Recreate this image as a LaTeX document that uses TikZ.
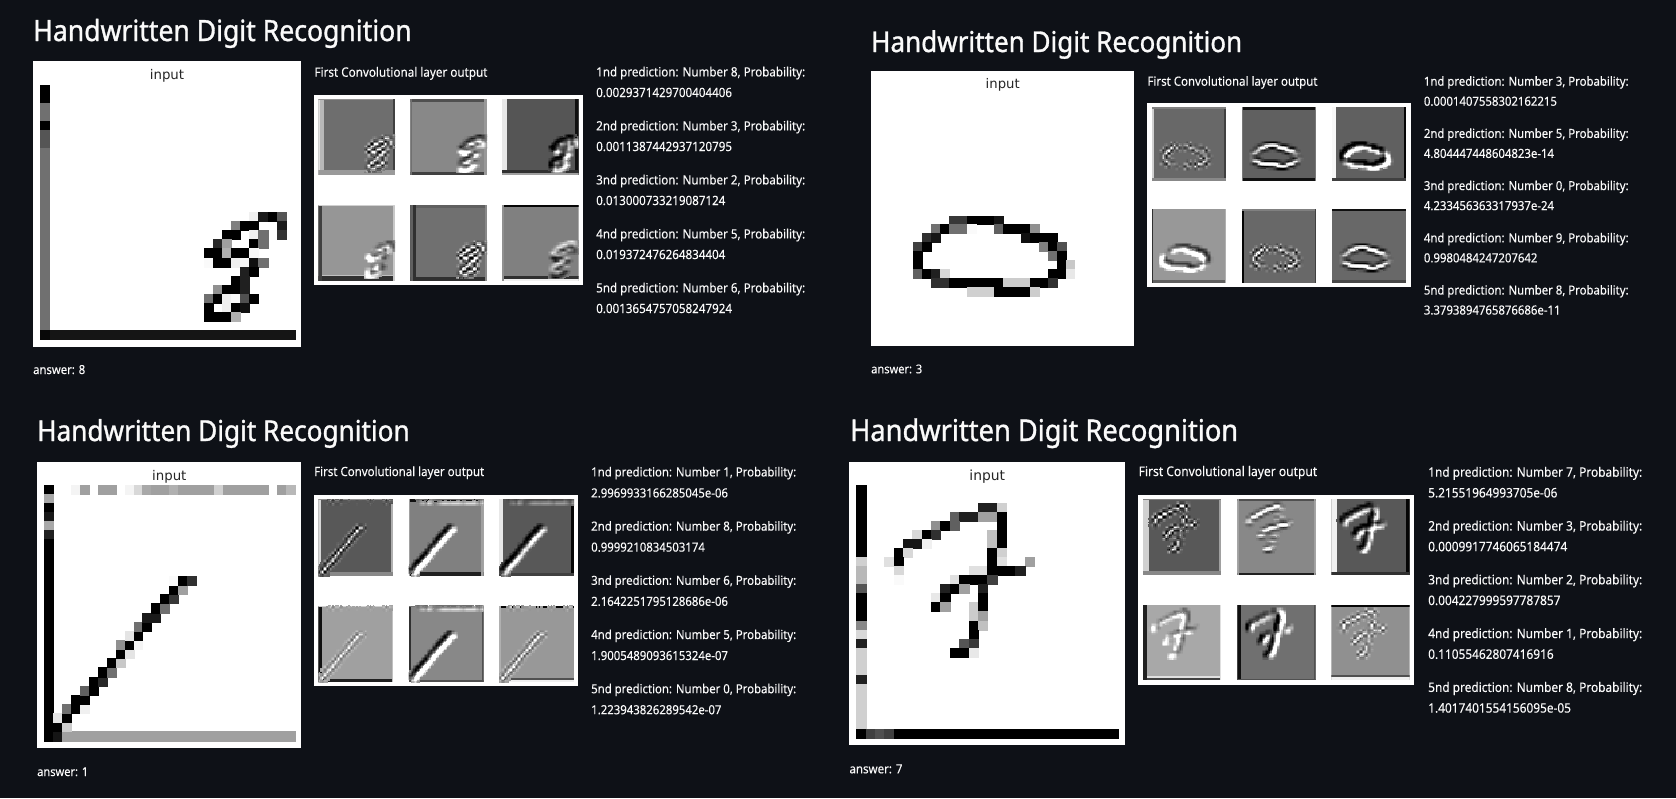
\documentclass[tikz,border=0pt]{standalone}
\usepackage{fontspec}
\setmainfont{Noto Sans}[FakeStretch=0.91,FakeBold=0.15]
\newfontfamily\titlefont{Noto Sans}[FakeStretch=0.91,FakeBold=1.1]
\newfontfamily\mplfont{DejaVu Sans}
\definecolor{pagebg}{HTML}{0E1117}
\definecolor{inktext}{HTML}{FAFAFA}
\foreach \a in {0,1,2,3,4,5,6,7,8,9,A,B,C,D,E,F}{\foreach \b in {0,1,2,3,4,5,6,7,8,9,A,B,C,D,E,F}{\xglobal\definecolor{g\a\b}{HTML}{\a\b\a\b\a\b}}}
\newlength\fitw
\newcount\tidc
\newcount\curn
% text fitted to a measured width: options, x, y, width, font, text
\newcommand\fit[6]{%
  \node[inner sep=0,#1] at (#2,#3) {\settowidth\fitw{#5\fontsize{10}{12}\selectfont #6}%
  \pgfmathsetmacro\fitfs{10*#4/\fitw}%
  #5\fontsize{\fitfs}{\fitfs}\selectfont #6};}
% digit picture: x0,y0,cell w,cell h,list c1/c2/r1/r2/grey
\newcommand\pixels[5]{%
  \begin{scope}[shift={(#1,#2)},x=#3pt,y=-#4pt]
  \foreach \ca/\cb/\ra/\rb/\pg in #5{%
    \path[fill=g\pg,draw=g\pg,line width=.2pt] (\ca,\ra) rectangle ({\cb+1},{\rb+1});}
  \end{scope}}
% expand a picture list into single cells (the axis bars are left to the strips)
\newcommand\buildcells[2]{%
  \gdef\tmpcells{}%
  \foreach \ca/\cb/\ra/\rb/\pg in #2{%
    \foreach \qi in {\ca,...,\cb}{\foreach \qj in {\ra,...,\rb}{%
      \edef\qv{\the\numexpr255-"\pg\relax}%
      \ifnum\qi>0 \ifnum\qj<27 \ifnum\qv>8
        \xdef\tmpcells{\unexpanded\expandafter{\tmpcells}\noexpand\docell{\qi}{\qj}{\qv}}%
      \fi\fi\fi}}}%
  \global\let#1\tmpcells}
% convolution of a picture with a small kernel, bilinear enlargement, drawing
\def\docell#1#2#3{\edef\qc{#1}\edef\qr{#2}\edef\qv{#3}\currentkernel}
\def\dok#1#2#3{\acc{\the\numexpr\qc+#1\relax}{\the\numexpr\qr+#2\relax}{\numexpr\qv*#3\relax}}
\def\acc#1#2#3{%
  \ifcsname a\tid @#1@#2\endcsname
    \expandafter\xdef\csname a\tid @#1@#2\endcsname{\the\numexpr\csname a\tid @#1@#2\endcsname+#3\relax}%
  \else
    \expandafter\xdef\csname a\tid @#1@#2\endcsname{\the\numexpr#3\relax}%
    \xdef\touched{\unexpanded\expandafter{\touched}\noexpand\dopa{#1}{#2}}%
  \fi}
\def\dopa#1#2{%
  \edef\qv{\csname a\tid @#1@#2\endcsname}%
  \edef\qc{\the\numexpr2*#1\relax}\edef\qr{\the\numexpr2*#2\relax}%
  \acb{-1}{-1}{1}\acb{0}{-1}{2}\acb{1}{-1}{1}\acb{-1}{0}{2}\acb{0}{0}{4}\acb{1}{0}{2}\acb{-1}{1}{1}\acb{0}{1}{2}\acb{1}{1}{1}}
\def\acb#1#2#3{%
  \edef\qx{\the\numexpr\qc+#1\relax}\edef\qy{\the\numexpr\qr+#2\relax}%
  \ifcsname b\tid @\qx @\qy\endcsname
    \expandafter\xdef\csname b\tid @\qx @\qy\endcsname{\the\numexpr\csname b\tid @\qx @\qy\endcsname+\qv*#3\relax}%
  \else
    \expandafter\xdef\csname b\tid @\qx @\qy\endcsname{\the\numexpr\qv*#3\relax}%
    \xdef\touchedB{\unexpanded\expandafter{\touchedB}\noexpand\dodraw{\qx}{\qy}}%
  \fi}
\def\gobbleone#1{}
\def\dodraw#1#2{%
  \edef\qs{\csname b\tid @#1@#2\endcsname}%
  \ifnum\qs<0 \edef\qs{\the\numexpr\qs*50/100\relax}\fi
  \edef\qg{\the\numexpr\tbg+\qs/(4*\tdiv)\relax}%
  \ifnum\tdiv<0 \edef\qg{\the\numexpr\tbg+\csname b\tid @#1@#2\endcsname/(8*\tdiv)\relax}\fi
  \ifnum\qg<0 \def\qg{0}\fi \ifnum\qg>255 \def\qg{255}\fi
  \edef\qd{\the\numexpr\qg-\tbg\relax}%
  \edef\qa{\the\numexpr2*#1+1\relax}\edef\qb{\the\numexpr2*#2+1\relax}%
  \ifnum\qd<-2 \drawcell\else\ifnum\qd>2 \drawcell\fi\fi}
% the thousands of small squares go out as compact page-content literals
\makeatletter
\def\drawcell{%
  \edef\qgv{\expandafter\gobbleone\the\numexpr1000+\qg*999/255\relax}%
  \xdef\curlit{\curlit .\qgv\space g \qa\space\qb\space 2.2 2.2 re f }%
  \global\advance\curn1
  \ifnum\curn>39 \flushlit\fi}
\def\flushlit{%
  \ifnum\curn>0 \pgfsysprotocol@literal{q \tctm\space cm \curlit Q}\fi
  \gdef\curlit{}\global\curn0 }
\makeatother
\newcommand\conv[3]{%
  \global\advance\tidc 1 \edef\tid{\the\tidc}%
  \gdef\touched{}\gdef\touchedB{}\gdef\curlit{}\global\curn0
  \let\currentkernel#2%
  #1\touched
  \edef\tdiv{#3}%
  \pgfmathsetmacro\cta{\tileW/112*0.996264}%
  \pgfmathsetmacro\ctd{-\tileH/112*0.996264}%
  \pgfmathsetmacro\cte{\tileX*0.996264}%
  \pgfmathsetmacro\ctf{-\tileY*0.996264}%
  \edef\tctm{\cta\space 0 0 \ctd\space \cte\space \ctf}%
  \touchedB
  \flushlit}
\def\kH{\dok{-1}{-1}{-1}\dok{0}{-1}{-2}\dok{1}{-1}{-1}\dok{-1}{1}{1}\dok{0}{1}{2}\dok{1}{1}{1}}
\def\kV{\dok{-1}{-1}{-1}\dok{-1}{0}{-2}\dok{-1}{1}{-1}\dok{1}{-1}{1}\dok{1}{0}{2}\dok{1}{1}{1}}
\def\kD{\dok{-1}{0}{-1}\dok{-1}{-1}{-2}\dok{0}{-1}{-1}\dok{1}{0}{1}\dok{1}{1}{2}\dok{0}{1}{1}}
\def\kA{\dok{1}{0}{-1}\dok{1}{-1}{-2}\dok{0}{-1}{-1}\dok{-1}{0}{1}\dok{-1}{1}{2}\dok{0}{1}{1}}
\def\kRidge{\dok{-1}{-1}{-1}\dok{0}{-1}{-2}\dok{1}{-1}{-1}\dok{-1}{0}{2}\dok{0}{0}{4}\dok{1}{0}{2}\dok{-1}{1}{-1}\dok{0}{1}{-2}\dok{1}{1}{-1}}
\def\kLap{\dok{-1}{-1}{1}\dok{0}{-1}{-2}\dok{1}{-1}{1}\dok{-1}{0}{-2}\dok{0}{0}{4}\dok{1}{0}{-2}\dok{-1}{1}{1}\dok{0}{1}{-2}\dok{1}{1}{1}}
% feature tile: x0,y0,w,h,bg,strips+convolution
\newcommand\tile[6]{%
  \begin{scope}[shift={(#1,#2)},x={#3pt/28},y={-#4pt/28}]
  \edef\tbg{\number"#5}\def\tileW{#3}\def\tileH{#4}\def\tileX{#1}\def\tileY{#2}%
  \clip (0,0) rectangle (28,28);
  \fill[fill=g#5] (0,0) rectangle (28,28);
  #6
  \end{scope}}
\newcommand\sL[2]{\fill[fill=g#2] (0,0) rectangle (#1,28);}
\newcommand\sR[2]{\fill[fill=g#2] ({28-#1},0) rectangle (28,28);}
\newcommand\sT[2]{\fill[fill=g#2] (0,0) rectangle (28,#1);}
\newcommand\sB[2]{\fill[fill=g#2] (0,{28-#1}) rectangle (28,28);}
% prediction lines: list, panel, x, y1, y2, step, width
\newcommand\predfont[1]{%
  \settowidth\fitw{\fontsize{10}{12}\selectfont 1nd prediction: Number 8, Probability:}%
  \pgfmathsetmacro\predfs{10*#1/\fitw}%
  \fontsize{\predfs}{\predfs}\selectfont}
\newcommand\predlines[7]{%
  \foreach \pk/\pd/\pv in {#1}{%
    \pgfmathsetmacro\yA{#4+(\pk-1)*#6}%
    \pgfmathsetmacro\yB{#5+(\pk-1)*#6}%
    \node[txt,name=p#2a\pk] at (#3,\yA) {\predfont{#7}\pk nd prediction: Number \pd, Probability:};
    \node[txt,name=p#2b\pk] at (#3,\yB) {\predfont{#7}\pv};
  }}
\tikzset{
  txt/.style={anchor=base west,inner sep=0,text=inktext},
  ttl/.style={anchor=base west,text=inktext},
  inp/.style={anchor=base,text=g26},
}
\def\listA{
0/0/0/1/00,0/0/2/3/70,0/0/4/4/00,0/0/5/6/55,0/0/7/26/70,0/27/27/27/15,0/0/27/27/08,
23/23/14/14/F0,24/24/14/14/1A,25/25/14/14/00,26/26/14/14/55,
21/21/15/15/80,22/23/15/15/00,26/26/15/15/1A,
20/21/16/16/00,23/23/16/16/F0,24/24/16/16/70,26/26/16/16/33,
19/19/17/17/28,20/20/17/17/A0,23/23/17/17/00,24/24/17/17/70,
18/19/18/18/00,20/20/18/18/B0,21/22/18/18/00,23/23/18/18/F8,
18/18/19/19/FA,19/20/19/19/00,21/21/19/19/F0,22/22/19/19/F8,23/23/19/19/10,24/24/19/19/70,
22/22/20/20/20,23/23/20/20/00,
21/21/21/21/00,22/22/21/21/20,
19/19/22/22/90,20/21/22/22/00,22/22/22/22/20,
18/18/23/23/70,19/19/23/23/00,20/20/23/23/F0,21/21/23/23/F8,22/22/23/23/50,23/23/23/23/00,
18/18/24/24/00,20/20/24/24/F0,21/21/24/24/00,22/22/24/24/10,
18/20/25/25/00,21/21/25/25/B0}
\def\listB{
8/9/14/14/38,10/12/14/14/00,13/13/14/14/15,
6/6/15/15/70,7/7/15/15/00,8/9/15/15/70,10/10/15/15/FA,13/13/15/15/60,14/16/15/15/00,17/17/15/15/90,
5/5/16/16/30,6/6/16/16/15,16/16/16/16/10,17/19/16/16/00,
4/4/17/17/40,5/5/17/17/00,18/18/17/17/80,19/19/17/17/00,20/20/17/17/50,
4/4/18/19/00,19/19/18/18/70,20/20/18/19/00,21/21/19/19/C8,
4/4/20/20/60,5/5/20/20/00,6/6/20/20/20,7/7/20/20/D8,19/20/20/20/00,21/21/20/20/E8,
6/7/21/21/30,8/13/21/21/00,14/16/21/21/CC,17/18/21/21/00,19/19/21/21/30,
10/12/22/22/D0,13/16/22/22/00,17/17/22/22/CC}
\def\listC{
0/0/0/0/00,0/0/1/1/A8,0/0/2/2/00,0/0/3/3/18,0/0/4/4/A8,0/0/5/5/20,0/0/6/27/00,
3/3/0/0/F4,4/4/0/0/A0,6/7/0/0/A0,9/9/0/0/F4,10/10/0/0/D8,11/11/0/0/A8,12/13/0/0/A0,14/14/0/0/B0,15/18/0/0/A0,19/19/0/0/D0,20/24/0/0/A0,26/26/0/0/A0,27/27/0/0/B8,
1/1/27/27/15,2/27/27/27/A0,
1/1/26/26/00,2/2/26/26/CC,
1/1/25/25/E4,2/2/25/25/00,
2/2/24/24/70,3/3/24/24/00,4/4/24/24/F0,
3/4/23/23/00,
4/4/22/22/60,5/5/22/22/00,
5/5/21/21/00,6/6/21/21/28,
6/6/20/20/00,7/7/20/20/70,
7/7/19/19/00,8/8/19/19/C8,
8/8/18/18/00,9/9/18/18/E4,
8/8/17/17/90,9/9/17/17/00,10/10/17/17/F4,
9/9/16/16/E4,10/10/16/16/00,
10/10/15/15/70,11/11/15/15/00,
11/12/14/14/1A,
12/12/13/13/00,13/13/13/13/70,
13/13/12/12/00,14/14/12/12/38,
14/14/11/11/00,15/15/11/11/A0,
14/14/10/10/FA,15/15/10/10/00,16/16/10/10/30}
\def\listD{
0/0/0/7/00,0/0/8/8/D0,0/0/9/10/B8,0/0/11/11/55,0/0/12/14/00,0/0/15/15/88,0/0/16/16/D8,0/0/17/17/20,0/0/18/20/D0,0/0/21/21/20,0/0/22/26/D0,
0/0/27/27/00,1/1/27/27/40,2/2/27/27/50,3/3/27/27/40,4/27/27/27/00,
13/14/2/2/20,15/15/2/2/D0,
10/10/3/3/60,11/12/3/3/20,13/14/3/3/A0,15/15/3/3/00,
8/8/4/4/90,9/9/4/4/00,10/10/4/4/60,15/15/4/4/00,
6/6/5/5/D8,7/7/5/5/00,8/8/5/5/30,14/14/5/5/C0,15/15/5/5/00,
5/6/6/6/15,7/7/6/6/F0,14/14/6/6/C0,15/15/6/6/00,
4/4/7/7/00,5/5/7/7/D8,14/14/7/7/00,15/15/7/7/D0,
3/3/8/8/E0,4/4/8/8/00,14/14/8/8/00,15/15/8/8/E0,18/18/8/8/A0,
4/4/9/9/D8,12/13/9/9/E0,14/16/9/9/00,17/17/9/9/20,
4/4/10/10/FA,10/10/10/10/E0,11/13/10/10/00,14/14/10/10/40,
9/9/11/11/20,10/10/11/11/00,11/11/11/11/A0,13/13/11/11/20,
8/8/12/12/E8,9/9/12/12/00,13/13/12/12/00,
8/8/13/13/00,9/9/13/13/A0,12/12/13/13/CC,13/13/13/13/00,
12/12/14/14/CC,13/13/14/14/A0,
12/12/15/15/00,13/13/15/15/C0,
12/12/16/16/00,
11/11/17/17/55,12/12/17/17/38,
10/11/18/18/00,12/12/18/18/E8}
\buildcells\cellsA\listA
\buildcells\cellsB\listB
\buildcells\cellsC\listC
\buildcells\cellsD\listD
\begin{document}
\begin{tikzpicture}[x=1pt,y=-1pt]
\useasboundingbox (0,0) rectangle (1676,798);
\fill[pagebg] (0,0) rectangle (1676,798);
%% white panels
\fill[white] (33,61) rectangle (301,347);
\fill[white] (871,71) rectangle (1134.3,346);
\fill[white] (37,461.7) rectangle (301,747.7);
\fill[white] (849,461.7) rectangle (1125,745.3);
\fill[white] (314.3,95) rectangle (582.7,285.3);
\fill[white] (1147.3,103.3) rectangle (1410.7,287.3);
\fill[white] (314,495) rectangle (578,686);
\fill[white] (1138.3,495) rectangle (1414.3,684.7);
%% titles
\fit{ttl,name=title1}{33}{41}{378.5}{\titlefont}{Handwritten Digit Recognition}
\fit{ttl,name=title2}{871}{52}{371}{\titlefont}{Handwritten Digit Recognition}
\fit{ttl,name=title3}{37}{441}{372.5}{\titlefont}{Handwritten Digit Recognition}
\fit{ttl,name=title4}{850}{441}{388}{\titlefont}{Handwritten Digit Recognition}
%% input labels
\fit{inp,name=inp1}{167}{79}{34.3}{\mplfont}{input}
\fit{inp,name=inp2}{1002.7}{88.3}{34}{\mplfont}{input}
\fit{inp,name=inp3}{169.3}{480}{34.3}{\mplfont}{input}
\fit{inp,name=inp4}{987.3}{480}{35.7}{\mplfont}{input}
%% answers
\fit{txt,name=ans1}{33}{374}{52}{}{answer: 8}
\fit{txt,name=ans2}{871}{373.3}{51}{}{answer: 3}
\fit{txt,name=ans3}{37}{776}{51}{}{answer: 1}
\fit{txt,name=ans4}{849.3}{773.3}{53}{}{answer: 7}
%% layer captions
\fit{txt,name=cap1}{314.3}{76.7}{173}{}{First Convolutional layer output}
\fit{txt,name=cap2}{1147.3}{85.7}{170}{}{First Convolutional layer output}
\fit{txt,name=cap3}{314}{476}{170}{}{First Convolutional layer output}
\fit{txt,name=cap4}{1138.5}{476}{178.5}{}{First Convolutional layer output}
%% predictions
\predlines{1/8/0.0029371429700404406,2/3/0.0011387442937120795,3/2/0.013000733219087124,4/5/0.019372476264834404,5/6/0.0013654757058247924}{1}{596}{76.4}{97}{54}{209}
\predlines{1/3/0.0001407558302162215,2/5/4.804447448604823e-14,3/0/4.233456363317937e-24,4/9/0.9980484247207642,5/8/3.3793894765876686e-11}{2}{1423.7}{85.7}{105.7}{52.2}{204.7}
\predlines{1/1/2.9969933166285045e-06,2/8/0.9999210834503174,3/6/2.1642251795128686e-06,4/5/1.9005489093615324e-07,5/0/1.223943826289542e-07}{3}{591}{476.4}{497.4}{54.2}{205}
\predlines{1/7/5.21551964993705e-06,2/3/0.0009917746065184474,3/2/0.004227999597787857,4/1/0.11055462807416916,5/8/1.4017401554156095e-05}{4}{1428}{476.7}{497.4}{53.8}{214}
%% input pictures
\pixels{39.7}{84.7}{9.12}{9.1}{\listA}
\pixels{877.67}{90.3}{8.95}{8.95}{\listB}
\pixels{44}{484.7}{8.96}{9.14}{\listC}
\pixels{856.3}{484.7}{9.36}{9.06}{\listD}
%% feature maps 1
\tile{318.3}{99}{76.7}{76.3}{6E}{\sL{2}{B8}\sL{.6}{E0}\sT{.5}{90}\sR{.9}{40}\sB{2}{9A}\conv\cellsA\kLap{4}}
\tile{410.3}{99}{76.7}{76.3}{88}{\sT{1}{50}\sB{1.3}{40}\sL{.5}{70}\sR{1}{98}\conv\cellsA\kH{4}}
\tile{502}{99}{76.7}{76.3}{55}{\sL{2}{E8}\sR{1.3}{10}\sB{2}{30}\sB{.7}{A0}\conv\cellsA\kD{4}}
\tile{318.3}{205}{76.7}{76.3}{96}{\sB{2.4}{C0}\sB{1.8}{30}\sL{1.5}{40}\sR{.8}{C8}\sT{.4}{D0}\conv\cellsA\kA{5}}
\tile{410.3}{205}{76.7}{76.3}{70}{\sT{1}{60}\sB{1.5}{30}\sL{2}{30}\sL{1}{60}\sR{.8}{88}\conv\cellsA\kLap{3}}
\tile{502}{205}{76.7}{76.3}{80}{\sT{.8}{05}\sB{1.7}{F0}\fill[fill=g30] (0,26) rectangle (28,27.2);\sL{.8}{90}\conv\cellsA\kH{-4}}
%% feature maps 2
\tile{1151.7}{107.3}{74.6}{73.7}{68}{\sL{.8}{D0}\sR{.8}{40}\sB{1.2}{88}\sT{.5}{80}\conv\cellsB\kLap{4}}
\tile{1241.7}{107.3}{74.6}{73.7}{60}{\sT{1}{10}\sB{1}{10}\sL{.5}{78}\sR{.5}{78}\conv\cellsB\kRidge{5}}
\tile{1331.7}{107.3}{74.6}{73.7}{60}{\sL{1.6}{F8}\sR{1}{05}\sB{1.2}{40}\conv\cellsB\kD{3}}
\tile{1151.7}{209.3}{74.6}{73.7}{98}{\sB{1.2}{60}\sL{.6}{30}\sR{.5}{B0}\conv\cellsB\kA{4}}
\tile{1241.7}{209.3}{74.6}{73.7}{68}{\sL{1}{05}\sT{.5}{80}\sR{.4}{40}\conv\cellsB\kLap{3}}
\tile{1331.7}{209.3}{74.6}{73.7}{68}{\sT{.7}{10}\sB{1.2}{48}\conv\cellsB\kRidge{5}}
%% feature maps 3
\tile{318.3}{499.3}{75}{76.7}{58}{\sL{1}{D8}\sR{.7}{B0}\sB{1.6}{88}\sT{.4}{90}\conv\cellsC\kLap{5}}
\tile{408.7}{499.3}{75}{76.7}{80}{\sT{1}{10}\sB{1.3}{20}\sL{.5}{A0}\sR{1}{A0}\conv\cellsC\kD{3}}
\tile{499}{499.3}{75}{76.7}{58}{\sL{1.6}{E8}\sR{1.3}{05}\sB{1.2}{40}\conv\cellsC\kD{4}}
\tile{318.3}{605.7}{75}{76.3}{A0}{\sL{1.2}{10}\sB{1}{20}\sR{.6}{C0}\sT{.5}{D0}\conv\cellsC\kLap{8}}
\tile{408.7}{605.7}{75}{76.3}{88}{\sL{1}{30}\sB{.6}{50}\sR{.6}{50}\sT{.5}{70}\conv\cellsC\kD{3}}
\tile{499}{605.7}{75}{76.3}{98}{\sT{.8}{05}\sB{1.6}{F0}\fill[fill=g50] (0,26.4) rectangle (28,27.2);\sL{.8}{B0}\conv\cellsC\kLap{6}}
%% feature maps 4
\tile{1143}{499.3}{78.3}{75.7}{58}{\sL{2}{D0}\sR{.8}{A0}\sB{1.5}{88}\sT{.4}{80}\conv\cellsD\kLap{3}}
\tile{1237.3}{499.3}{78.4}{75.7}{88}{\sT{.8}{50}\sB{.8}{20}\sL{.5}{A0}\sR{.5}{A0}\conv\cellsD\kRidge{5}}
\tile{1331.3}{499.3}{78.4}{75.7}{58}{\sL{2}{F0}\sR{1.3}{05}\sB{1}{30}\conv\cellsD\kD{4}}
\tile{1143}{605}{78.3}{75.3}{A8}{\sB{1.6}{E0}\sB{1}{40}\sL{1.3}{20}\sR{.6}{E0}\conv\cellsD\kA{5}}
\tile{1237.3}{605}{78.4}{75.3}{70}{\sL{1.3}{10}\sB{.5}{50}\sR{.5}{50}\conv\cellsD\kV{3}}
\tile{1331.3}{605}{78.4}{75.3}{90}{\sT{.8}{05}\sB{1.2}{F0}\fill[fill=g50] (0,26) rectangle (28,26.8);\conv\cellsD\kLap{4}}
\end{tikzpicture}
\end{document}
